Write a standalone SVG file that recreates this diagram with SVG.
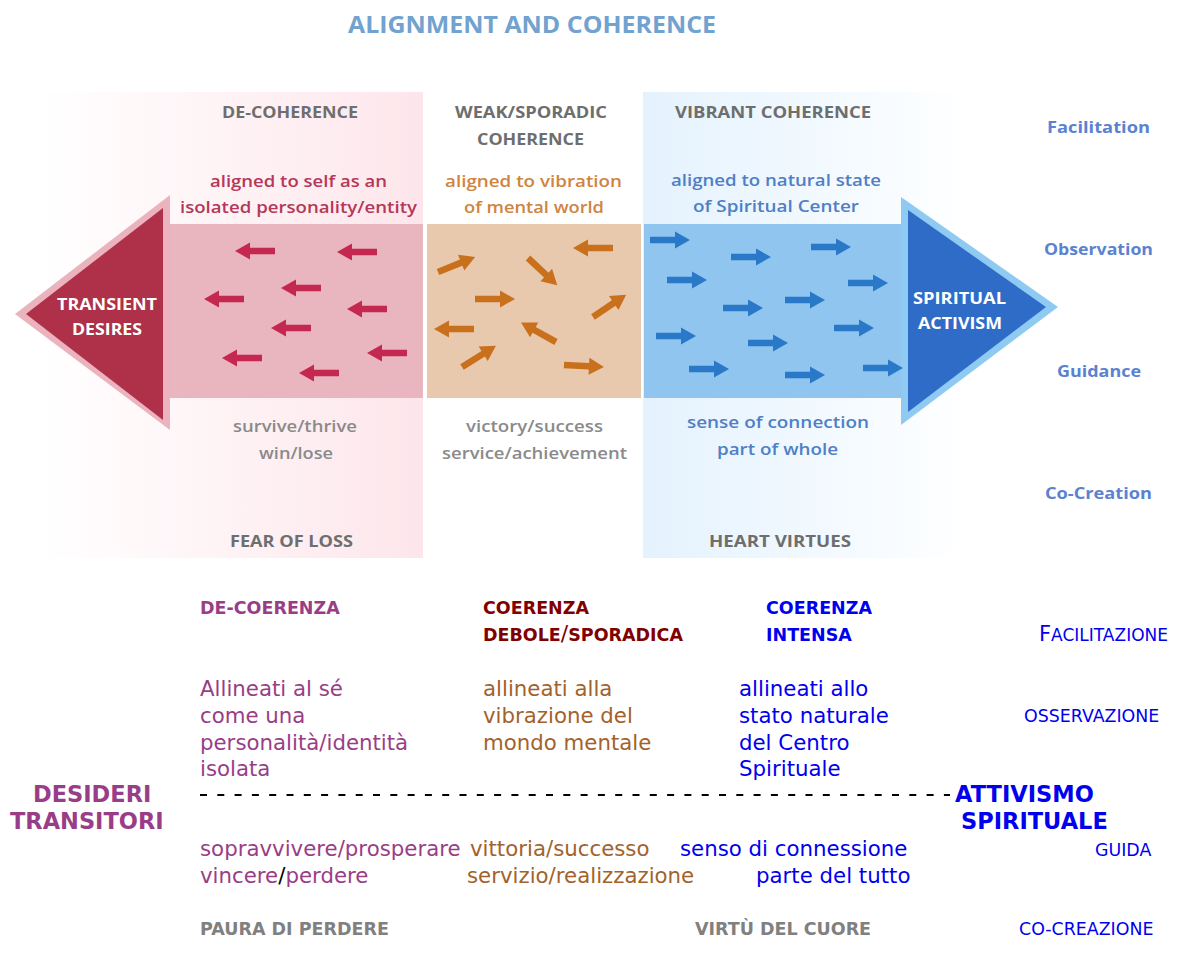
<svg xmlns="http://www.w3.org/2000/svg" width="1181" height="963" viewBox="0 0 1181 963">
<defs>
<linearGradient id="pinkBg" x1="0" y1="0" x2="1" y2="0">
<stop offset="0" stop-color="#ffffff"/><stop offset="0.2" stop-color="#fffafb"/><stop offset="1" stop-color="#fde6eb"/>
</linearGradient>
<linearGradient id="blueBg" x1="0" y1="0" x2="1" y2="0">
<stop offset="0" stop-color="#e4f2fd"/><stop offset="0.7" stop-color="#f6fbff"/><stop offset="1" stop-color="#ffffff"/>
</linearGradient>
<path id="arr" d="M0,-3.3 H25 V-8.5 L40,0 L25,8.5 V3.3 H0 Z"/>
</defs>
<style>
.t{font-family:"Open Sans","Liberation Sans",sans-serif;font-weight:bold}
.hd{font-size:16px;fill:#6e6e6e}
.gr{font-size:15.5px;fill:#8a8a8a;font-weight:600}
.pk{font-size:15.5px;fill:#b5375a;font-weight:600}
.or{font-size:15.5px;fill:#cf8440;font-weight:600}
.bl{font-size:15.5px;fill:#4f7fc6;font-weight:600}
.wh{font-size:16px;fill:#ffffff}
.rt{font-size:16px;fill:#5b82d0}
.v{font-family:"DejaVu Sans","Liberation Sans",sans-serif}
.b{font-weight:bold}
.s17{font-size:17.5px}
.s21{font-size:21.3px}
.s22{font-size:22.5px}
.sc{font-size:17.4px}
.pu{fill:#993d88}
.br{fill:#a3622b}
.dr{fill:#800000}
.bu{fill:#0000ee}
.gy{fill:#808080}
.pa{fill:#c4274f}
.oa{fill:#c8701c}
.ba{fill:#2a78c8}
</style>

<text class="t" x="348" y="33" font-size="24" fill="#72a2cf" textLength="368" lengthAdjust="spacingAndGlyphs">ALIGNMENT AND COHERENCE</text>

<g id="panels">
<rect x="40" y="92" width="383" height="466" fill="url(#pinkBg)"/>
<rect x="643" y="92" width="320" height="466" fill="url(#blueBg)"/>
</g>

<g id="band-decoherence">
<rect x="168" y="224" width="255" height="174" fill="#e9b5bf"/>
<polygon points="15,314 170,195 170,430" fill="#eab3be"/>
<polygon points="26,314 163,208 163,420" fill="#ae3149"/>
</g>
<g id="band-weak">
<rect x="427" y="224" width="214" height="174" fill="#e8c9ad"/>
</g>
<g id="band-vibrant">
<rect x="644" y="224" width="262" height="174" fill="#8fc5ef"/>
<polygon points="901,197 1058,307 901,425" fill="#8ecaf2"/>
<polygon points="908,210 1046,307 908,412" fill="#2f6cc8"/>
</g>

<g id="connectors">
<g class="pa">
<use href="#arr" transform="translate(275,251) rotate(180)"/>
<use href="#arr" transform="translate(377,252) rotate(180)"/>
<use href="#arr" transform="translate(321,288) rotate(180)"/>
<use href="#arr" transform="translate(244,299) rotate(180)"/>
<use href="#arr" transform="translate(387,309) rotate(180)"/>
<use href="#arr" transform="translate(311,328) rotate(180)"/>
<use href="#arr" transform="translate(262,358) rotate(180)"/>
<use href="#arr" transform="translate(407,353) rotate(180)"/>
<use href="#arr" transform="translate(339,373) rotate(180)"/>
</g>
<g class="oa">
<use href="#arr" transform="translate(438,272) rotate(-22)"/>
<use href="#arr" transform="translate(528,258) rotate(43)"/>
<use href="#arr" transform="translate(613,248) rotate(180)"/>
<use href="#arr" transform="translate(475,299)"/>
<use href="#arr" transform="translate(593,317) rotate(-34)"/>
<use href="#arr" transform="translate(474,329) rotate(180)"/>
<use href="#arr" transform="translate(556,342) rotate(-151)"/>
<use href="#arr" transform="translate(462,367) rotate(-32)"/>
<use href="#arr" transform="translate(564,365) rotate(3)"/>
</g>
<g class="ba">
<use href="#arr" transform="translate(650,240)"/>
<use href="#arr" transform="translate(731,257)"/>
<use href="#arr" transform="translate(811,247)"/>
<use href="#arr" transform="translate(667,280)"/>
<use href="#arr" transform="translate(848,283)"/>
<use href="#arr" transform="translate(723,308)"/>
<use href="#arr" transform="translate(785,300)"/>
<use href="#arr" transform="translate(656,336)"/>
<use href="#arr" transform="translate(748,343)"/>
<use href="#arr" transform="translate(834,328)"/>
<use href="#arr" transform="translate(689,369)"/>
<use href="#arr" transform="translate(785,375)"/>
<use href="#arr" transform="translate(863,368)"/>
</g>
<line x1="200" y1="795" x2="950" y2="795" stroke="#000" stroke-width="2" stroke-dasharray="7,10.3"/>
</g>

<g id="top-labels">
<text class="t hd" x="222" y="118" textLength="136" lengthAdjust="spacingAndGlyphs">DE-COHERENCE</text>
<text class="t hd" x="455" y="118" textLength="152" lengthAdjust="spacingAndGlyphs">WEAK/SPORADIC</text>
<text class="t hd" x="477" y="145" textLength="107" lengthAdjust="spacingAndGlyphs">COHERENCE</text>
<text class="t hd" x="675" y="118" textLength="196" lengthAdjust="spacingAndGlyphs">VIBRANT COHERENCE</text>

<text class="t pk" x="210" y="187" textLength="177" lengthAdjust="spacingAndGlyphs">aligned to self as an</text>
<text class="t pk" x="180" y="213" textLength="237" lengthAdjust="spacingAndGlyphs">isolated personality/entity</text>
<text class="t or" x="445" y="187" textLength="177" lengthAdjust="spacingAndGlyphs">aligned to vibration</text>
<text class="t or" x="464" y="213" textLength="140" lengthAdjust="spacingAndGlyphs">of mental world</text>
<text class="t bl" x="671" y="186" textLength="210" lengthAdjust="spacingAndGlyphs">aligned to natural state</text>
<text class="t bl" x="693" y="212" textLength="166" lengthAdjust="spacingAndGlyphs">of Spiritual Center</text>

<text class="t wh" x="57" y="310" textLength="100" lengthAdjust="spacingAndGlyphs">TRANSIENT</text>
<text class="t wh" x="72" y="335" textLength="70" lengthAdjust="spacingAndGlyphs">DESIRES</text>
<text class="t wh" x="913" y="304" textLength="93" lengthAdjust="spacingAndGlyphs">SPIRITUAL</text>
<text class="t wh" x="918" y="329" textLength="84" lengthAdjust="spacingAndGlyphs">ACTIVISM</text>

<text class="t gr" x="233" y="432" textLength="124" lengthAdjust="spacingAndGlyphs">survive/thrive</text>
<text class="t gr" x="259" y="459" textLength="74" lengthAdjust="spacingAndGlyphs">win/lose</text>
<text class="t gr" x="466" y="432" textLength="137" lengthAdjust="spacingAndGlyphs">victory/success</text>
<text class="t gr" x="442" y="459" textLength="185" lengthAdjust="spacingAndGlyphs">service/achievement</text>
<text class="t bl" x="687" y="428" textLength="182" lengthAdjust="spacingAndGlyphs">sense of connection</text>
<text class="t bl" x="717" y="455" textLength="121" lengthAdjust="spacingAndGlyphs">part of whole</text>

<text class="t hd" x="230" y="547" textLength="123" lengthAdjust="spacingAndGlyphs">FEAR OF LOSS</text>
<text class="t hd" x="709" y="547" textLength="142" lengthAdjust="spacingAndGlyphs">HEART VIRTUES</text>

<text class="t rt" x="1047" y="133" textLength="103" lengthAdjust="spacingAndGlyphs">Facilitation</text>
<text class="t rt" x="1044" y="255" textLength="109" lengthAdjust="spacingAndGlyphs">Observation</text>
<text class="t rt" x="1057" y="377" textLength="84" lengthAdjust="spacingAndGlyphs">Guidance</text>
<text class="t rt" x="1045" y="499" textLength="107" lengthAdjust="spacingAndGlyphs">Co-Creation</text>
</g>

<g id="it-decoerenza">
<text class="v b s17 pu" x="200" y="614">DE-COERENZA</text>
<text class="v s21 pu" x="200" y="696">Allineati al sé</text>
<text class="v s21 pu" x="200" y="723">come una</text>
<text class="v s21 pu" x="200" y="750">personalità/identità</text>
<text class="v s21 pu" x="200" y="776">isolata</text>
<text class="v s21 pu" x="200" y="856">sopravvivere/prosperare</text>
<text class="v s21 pu" x="200" y="883">vincere<tspan fill="#000">/</tspan>perdere</text>
<text class="v b s17 gy" x="200" y="935">PAURA DI PERDERE</text>
</g>
<g id="it-debole">
<text class="v b s17 dr" x="483" y="614">COERENZA</text>
<text class="v b s17 dr" x="483" y="641">DEBOLE<tspan font-size="22px" font-weight="normal">/</tspan>SPORADICA</text>
<text class="v s21 br" x="483" y="696">allineati alla</text>
<text class="v s21 br" x="483" y="723">vibrazione del</text>
<text class="v s21 br" x="483" y="750">mondo mentale</text>
<text class="v s21 br" x="470" y="856">vittoria/successo</text>
<text class="v s21 br" x="467" y="883">servizio/realizzazione</text>
</g>
<g id="it-intensa">
<text class="v b s17 bu" x="766" y="614">COERENZA</text>
<text class="v b s17 bu" x="766" y="641">INTENSA</text>
<text class="v s21 bu" x="739" y="696">allineati allo</text>
<text class="v s21 bu" x="739" y="723">stato naturale</text>
<text class="v s21 bu" x="739" y="750">del Centro</text>
<text class="v s21 bu" x="739" y="776">Spirituale</text>
<text class="v s21 bu" x="680" y="856">senso di connessione</text>
<text class="v s21 bu" x="756" y="883">parte del tutto</text>
<text class="v b s17 gy" x="695" y="935">VIRTÙ DEL CUORE</text>
</g>
<g id="it-desideri">
<text class="v b s22 pu" x="33" y="802">DESIDERI</text>
<text class="v b s22 pu" x="10" y="829">TRANSITORI</text>
</g>
<g id="it-attivismo">
<text class="v b s22 bu" x="955" y="802">ATTIVISMO</text>
<text class="v b s22 bu" x="961" y="829">SPIRITUALE</text>
</g>
<g id="it-right">
<text class="v bu" x="1039" y="641" font-size="17px"><tspan font-size="21px">F</tspan>ACILITAZIONE</text>
<text class="v bu sc" x="1024" y="722">OSSERVAZIONE</text>
<text class="v bu sc" x="1095" y="856">GUIDA</text>
<text class="v bu sc" x="1019" y="935">CO-CREAZIONE</text>
</g>
</svg>
